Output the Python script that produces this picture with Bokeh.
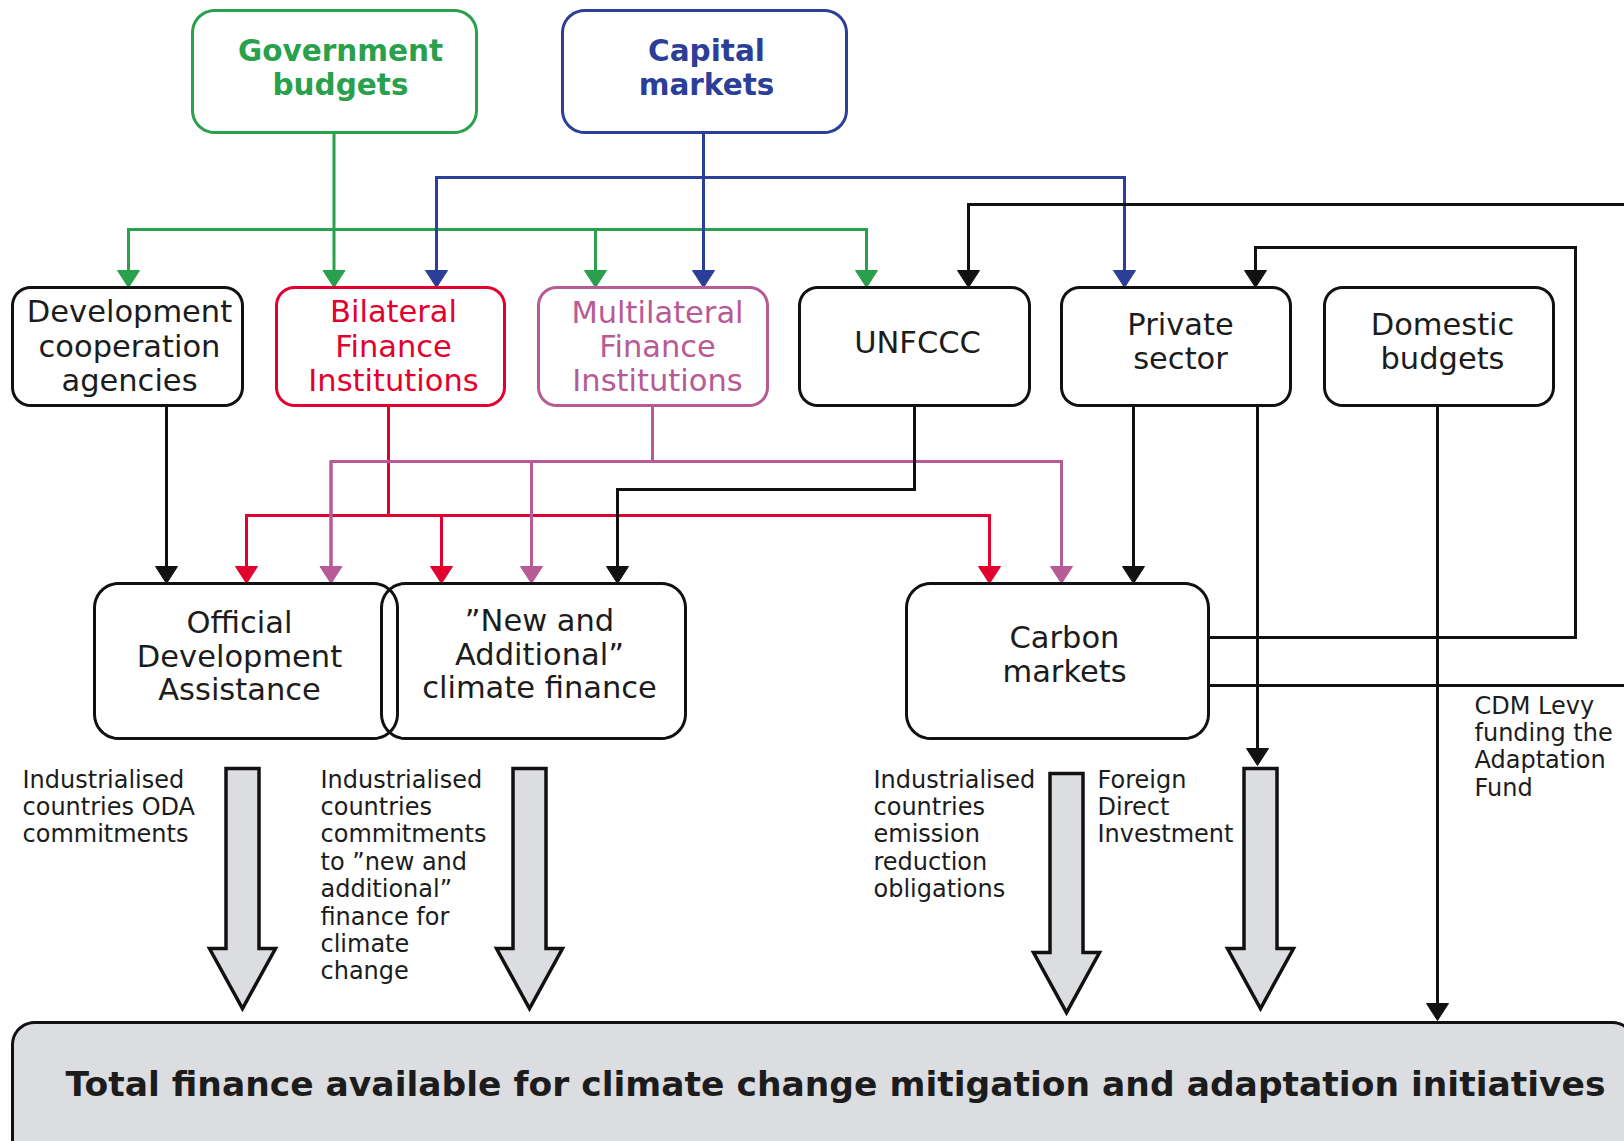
import numpy as np
from bokeh.plotting import figure
from bokeh.models import Range1d, ColumnDataSource
from bokeh.core.properties import value
from bokeh.embed import file_html
from bokeh.resources import INLINE

# ---------------- content ----------------
node_labels = [
    ["Government", "budgets"],
    ["Capital", "markets"],
    ["Development", "cooperation", "agencies"],
    ["Bilateral", "Finance", "Institutions"],
    ["Multilateral", "Finance", "Institutions"],
    ["UNFCCC"],
    ["Private", "sector"],
    ["Domestic", "budgets"],
    ["Official", "Development", "Assistance"],
    ["\u201dNew and", "Additional\u201d", "climate finance"],
    ["Carbon", "markets"],
    ["Total finance available for climate change mitigation and adaptation initiatives"],
]
note_labels = [
    ["Industrialised", "countries ODA", "commitments"],
    ["Industrialised", "countries", "commitments", "to \u201dnew and", "additional\u201d",
     "finance for", "climate", "change"],
    ["Industrialised", "countries", "emission", "reduction", "obligations"],
    ["Foreign", "Direct", "Investment"],
    ["CDM Levy", "funding the", "Adaptation", "Fund"],
]

# ---------------- styles ----------------
GREEN = "#29a04b"
BLUE = "#2b3e98"
RED = "#e3002f"
MAUVE = "#b75a95"
INK = "#111111"
TXT = "#1c1c1c"
GREY = "#dcdde0"

# ---------------- layout (page pixels) ----------------
W, H = 1624, 1141
X0, Y0 = 0, 0

node_left   = [192, 562, 12, 276, 538, 799, 1061, 1324, 94, 381, 906, 12]
node_right  = [476, 846, 242, 504, 767, 1029, 1290, 1553, 397, 685, 1208, 1634]
node_top    = [10, 10, 287, 287, 287, 287, 287, 287, 583, 583, 583, 1022]
node_bottom = [132, 132, 405, 405, 405, 405, 405, 405, 738, 738, 738, 1190]
node_radius = [22, 22, 18, 18, 18, 18, 18, 18, 24, 24, 24, 22]
node_line   = [GREEN, BLUE, INK, RED, MAUVE, INK, INK, INK, INK, INK, INK, INK]
node_fill   = ["white"] * 11 + [GREY]
node_tcolor = [GREEN, BLUE, TXT, RED, MAUVE, TXT, TXT, TXT, TXT, TXT, TXT, TXT]
node_tx     = [340, 706, 129, 393, 657, 917, 1180, 1442, 239, 539, 1064, 835]
node_ty0    = [50, 50, 311, 311, 312, 342, 324, 324, 622, 620, 637, 1083]
node_tdy    = [34, 34, 34.5, 34.5, 34, 0, 34, 34, 33.5, 33.5, 34, 0]
node_fsize  = [29.5, 29.5, 30.5, 30.5, 30.5, 30.5, 30.5, 30.5, 30.5, 30.5, 30.5, 34.5]
node_bold   = [True, True] + [False] * 9 + [True]

note_x  = [22, 320, 873, 1097, 1474]
note_y0 = [779, 779, 779, 779, 705]
NOTE_DY = 27.4

HEAD_W, HEAD_L = 22, 17
# wires: colour, points; the last point is the arrow tip when arrow flag is True
wires = [
    (GREEN, [(333.5, 132), (333.5, 287)], True),
    (GREEN, [(128, 287), (128, 229), (866, 229), (866, 287)], True),
    (GREEN, [(595, 229), (595, 287)], True),
    (GREEN, [(128, 229), (128, 287)], True),
    (BLUE, [(703, 132), (703, 287)], True),
    (BLUE, [(436, 287), (436, 177), (1124, 177), (1124, 287)], True),
    (BLUE, [(436, 177), (436, 287)], True),
    (INK, [(1640, 204), (968, 204), (968, 287)], True),
    (INK, [(1208, 637), (1575, 637), (1575, 247), (1255, 247), (1255, 287)], True),
    (INK, [(1208, 685), (1640, 685)], False),
    (INK, [(166, 405), (166, 583)], True),
    (RED, [(388, 405), (388, 515)], False),
    (RED, [(246, 583), (246, 515), (989, 515), (989, 583)], True),
    (RED, [(246, 515), (246, 583)], True),
    (RED, [(441, 515), (441, 583)], True),
    (MAUVE, [(652, 405), (652, 461)], False),
    (MAUVE, [(330.5, 583), (330.5, 461), (1061, 461), (1061, 583)], True),
    (MAUVE, [(330.5, 461), (330.5, 583)], True),
    (MAUVE, [(531, 461), (531, 583)], True),
    (INK, [(914, 405), (914, 489), (617, 489), (617, 583)], True),
    (INK, [(1133, 405), (1133, 583)], True),
    (INK, [(1257, 405), (1257, 765)], True),
    (INK, [(1437, 405), (1437, 1020)], True),
]

big_x   = [242, 529, 1066, 1260]
big_top = [768, 768, 773, 768]
big_tip = [1008, 1008, 1012, 1008]
SHAFT_HW, BHEAD_HW, BHEAD_L = 16.5, 33, 60


def rrect(l, r, t, b, rad, n=10):
    xs, ys = [], []
    corners = [((l + rad, t + rad), 180, 270), ((r - rad, t + rad), 270, 360),
               ((r - rad, b - rad), 0, 90), ((l + rad, b - rad), 90, 180)]
    for (cx, cy), a0, a1 in corners:
        a = np.radians(np.linspace(a0, a1, n))
        xs.extend(cx + rad * np.cos(a))
        ys.extend(cy + rad * np.sin(a))
    return list(xs), list(ys)


p = figure(width=W, height=H, x_range=Range1d(X0, X0 + W), y_range=Range1d(Y0 + H, Y0),
           output_backend="svg", toolbar_location=None, x_axis_type=None, y_axis_type=None,
           min_border=0, outline_line_color=None)
p.grid.visible = False
p.background_fill_color = "white"
p.border_fill_color = "white"

# wires
lx, ly, lc = [], [], []
hx, hy, hc = [], [], []
for col, pts, arrow in wires:
    xs = [q[0] for q in pts]
    ys = [q[1] for q in pts]
    if arrow:
        tx, ty = xs[-1], ys[-1]
        ys = ys[:-1] + [ty - HEAD_L + 1]
        hx.append([tx - HEAD_W / 2, tx + HEAD_W / 2, tx])
        hy.append([ty - HEAD_L, ty - HEAD_L, ty])
        hc.append(col)
    lx.append(xs); ly.append(ys); lc.append(col)
p.multi_line(lx, ly, line_color=lc, line_width=3, line_join="miter", line_cap="butt")
p.patches(hx, hy, fill_color=hc, line_color=hc, line_width=1)

# boxes: fills, then outlines
bx, by = [], []
for i in range(len(node_labels)):
    xs, ys = rrect(node_left[i], node_right[i], node_top[i], node_bottom[i], node_radius[i])
    bx.append(xs); by.append(ys)
p.patches(bx, by, fill_color=node_fill, line_color=None)
p.patches(bx, by, fill_alpha=0, line_color=node_line, line_width=3)

# big hollow arrows
ax, ay = [], []
for x, t, tip in zip(big_x, big_top, big_tip):
    hs = tip - BHEAD_L
    ax.append([x - SHAFT_HW, x + SHAFT_HW, x + SHAFT_HW, x + BHEAD_HW, x, x - BHEAD_HW, x - SHAFT_HW])
    ay.append([t, t, hs, hs, tip, hs, hs])
p.patches(ax, ay, fill_color=GREY, line_color=INK, line_width=3.5, line_join="miter")

# node texts
for bold in (True, False):
    d = dict(x=[], y=[], t=[], c=[], s=[])
    for i, lines in enumerate(node_labels):
        if node_bold[i] != bold:
            continue
        for k, line in enumerate(lines):
            d["x"].append(node_tx[i]); d["y"].append(node_ty0[i] + k * node_tdy[i])
            d["t"].append(line); d["c"].append(node_tcolor[i]); d["s"].append(f"{node_fsize[i]}px")
    p.text(x="x", y="y", text="t", text_color="c", text_font_size="s", source=ColumnDataSource(d),
           text_align="center", text_baseline="middle", text_font=value("DejaVu Sans"),
           text_font_style="bold" if bold else "normal")

# notes
d = dict(x=[], y=[], t=[])
for i, lines in enumerate(note_labels):
    for k, line in enumerate(lines):
        d["x"].append(note_x[i]); d["y"].append(note_y0[i] + k * NOTE_DY); d["t"].append(line)
p.text(x="x", y="y", text="t", source=ColumnDataSource(d), text_color=TXT,
       text_font_size=value("24px"), text_align="left", text_baseline="middle",
       text_font=value("DejaVu Sans"))

open("out.html", "w").write(file_html(p, INLINE))
